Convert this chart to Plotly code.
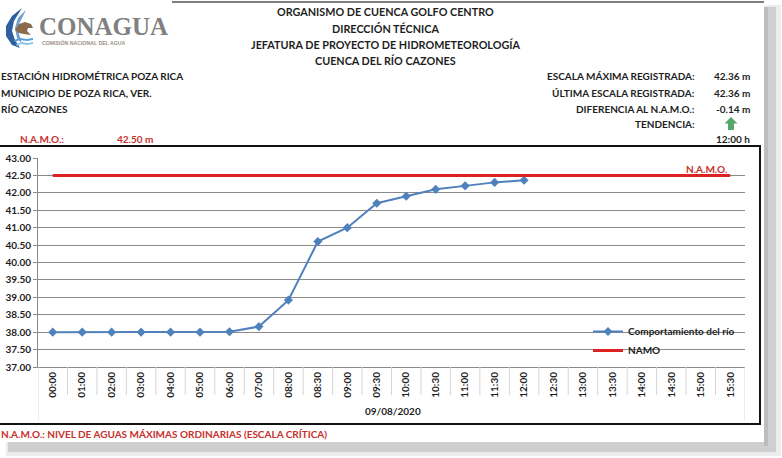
import plotly.graph_objects as go

# ---------------- data ----------------
categories = ["00:00", "01:00", "02:00", "03:00", "04:00", "05:00", "06:00", "07:00",
              "08:00", "08:30", "09:00", "09:30", "10:00", "10:30", "11:00", "11:30",
              "12:00", "12:30", "13:00", "13:30", "14:00", "14:30", "15:00", "15:30"]
river_times = categories[:17]
river_levels = [38.00, 38.00, 38.00, 38.00, 38.00, 38.00, 38.01, 38.16,
                38.92, 40.60, 41.00, 41.70, 41.90, 42.10, 42.20, 42.30, 42.36]
namo_level = 42.50
namo_values = [namo_level] * len(categories)
date_label = "09/08/2020"

W, H = 782, 458
L, R, T, B = 38, 745, 158, 367   # plot area in pixels

def px(x):
    return (x - L) / (R - L)

def py(y):
    return (B - y) / (B - T)

FONT = "Lato"
BLACK = "#1e1e1e"
RED_TXT = "#c8302c"
BLUE = "#4F81BD"
RED_LINE = "#dd2222"

fig = go.Figure()
fig.add_trace(go.Scatter(
    x=river_times, y=river_levels, name="Comportamiento del río",
    mode="lines+markers",
    line=dict(color=BLUE, width=2),
    marker=dict(symbol="diamond", size=7, color=BLUE),
))
fig.add_trace(go.Scatter(
    x=categories, y=namo_values, name="NAMO", mode="lines",
    line=dict(color=RED_LINE, width=3),
))

ann = []

def text(x, y, s, size=10.5, color=BLACK, xanchor="left", yanchor="middle", family=FONT, weight="bold"):
    ann.append(dict(x=px(x), y=py(y), xref="paper", yref="paper", text=s, showarrow=False,
                    xanchor=xanchor, yanchor=yanchor,
                    font=dict(family=family, size=size, color=color, weight=weight)))

# centre header
for yy, s in [(12, "ORGANISMO DE CUENCA GOLFO CENTRO"), (28, "DIRECCIÓN TÉCNICA"),
              (45, "JEFATURA DE PROYECTO DE HIDROMETEOROLOGÍA"), (61, "CUENCA DEL RÍO CAZONES")]:
    text(385, yy, s, size=10.8, xanchor="center")

# left block
text(-1, 76, "ESTACIÓN HIDROMÉTRICA POZA RICA", size=10)
text(-1, 93, "MUNICIPIO DE POZA RICA, VER.", size=10)
text(-1, 109, "RÍO CAZONES", size=10)
text(18, 139, "N.A.M.O.:", size=10, color=RED_TXT)
text(115, 139, "42.50 m", size=10, color=RED_TXT)

# right block
for yy, s in [(76, "ESCALA MÁXIMA REGISTRADA:"), (93, "ÚLTIMA ESCALA REGISTRADA:"),
              (109, "DIFERENCIA AL N.A.M.O.:"), (124, "TENDENCIA:")]:
    text(697, yy, s, size=10, xanchor="right")
for yy, s in [(76, "42.36 m"), (93, "42.36 m"), (109, "-0.14 m"), (139, "12:00 h")]:
    text(752, yy, s, size=10, xanchor="right")

# logo text
text(37, 26, "CONAGUA", size=25, color="#808080", family="Liberation Serif", weight="bold")
text(40, 43, "COMISIÓN NACIONAL DEL AGUA", size=5.2, color="#9a8f86", family="Liberation Sans")

# in-chart labels
text(729, 169, "N.A.M.O.", size=10, color=RED_TXT, xanchor="right")
text(393, 411, date_label, size=10, xanchor="center")
text(-1, 434, "N.A.M.O.: NIVEL DE AGUAS MÁXIMAS ORDINARIAS (ESCALA CRÍTICA)", size=10, color=RED_TXT)

shapes = []

def rect(x0, y0, x1, y1, fill=None, line_color=None, lw=0, layer="above"):
    shapes.append(dict(type="rect", xref="paper", yref="paper",
                       x0=px(x0), x1=px(x1), y0=py(y0), y1=py(y1),
                       fillcolor=fill if fill else "rgba(0,0,0,0)",
                       line=dict(color=line_color or "rgba(0,0,0,0)", width=lw), layer=layer))

def path(points, fill, line_color=None, lw=0, closed=True):
    d = "M " + " L ".join(f"{px(a):.5f},{py(b):.5f}" for a, b in points)
    if closed:
        d += " Z"
    shapes.append(dict(type="path", xref="paper", yref="paper", path=d,
                       fillcolor=fill, line=dict(color=line_color or "rgba(0,0,0,0)", width=lw)))

# page shadow
rect(764, 5, 781, 456, fill="#ececec", layer="below")
rect(6, 442, 781, 456, fill="#ececec", layer="below")
rect(764, 7, 776, 452, fill="#cfcfcf", layer="below")
rect(8, 442, 776, 452, fill="#cfcfcf", layer="below")
rect(764, 7, 768, 446, fill="#bdbdbd", layer="below")
# top rule
shapes.append(dict(type="line", xref="paper", yref="paper", x0=px(172), x1=px(764),
                   y0=py(2), y1=py(2), line=dict(color="#555555", width=1.5)))
# chart frame
rect(-1, 146, 760, 424, line_color="#111111", lw=2)

# category separators in the label area
for i in range(len(categories) + 1):
    outer = i == 0 or i == len(categories)
    shapes.append(dict(type="line", xref="x", yref="paper", x0=i - 0.5, x1=i - 0.5,
                       y0=0, y1=py(420 if outer else 395),
                       line=dict(color="#d6d6d6", width=1)))

# green trend arrow
path([(731, 117), (737.5, 123.5), (734, 123.5), (734, 130), (728, 130), (728, 123.5), (724.5, 123.5)],
     fill="#55a868")

# logo icon (approximation)
path([(22, 8), (12, 16), (6, 26), (6, 36), (12, 45), (20, 48), (15, 40), (12, 31), (14, 21)],
     fill="#2f5f9e")
path([(26, 10), (18, 18), (15, 28), (17, 38), (22, 44), (19, 34), (19, 24)],
     fill="#6f9fd0")
path([(15, 30), (19, 24), (25, 22), (31, 24), (33, 28), (28, 28), (27, 31), (31, 35), (24, 34), (19, 33)],
     fill="#8b6b4a")
path([(14, 40), (20, 38), (27, 39), (33, 38), (33, 40), (27, 41), (20, 40), (15, 42)],
     fill="#5aa0d8")
path([(16, 44), (22, 42), (28, 43), (33, 42), (33, 44), (27, 45), (21, 44), (17, 46)],
     fill="#8cc4ea")

fig.update_layout(
    width=W, height=H,
    margin=dict(l=L, r=W - R, t=T, b=H - B, pad=0, autoexpand=False),
    paper_bgcolor="white", plot_bgcolor="white",
    showlegend=True,
    legend=dict(x=px(588), y=py(317), xanchor="left", yanchor="top",
                bgcolor="rgba(0,0,0,0)", itemwidth=30, tracegroupgap=0,
                font=dict(family=FONT, size=10, color=BLACK, weight="bold")),
    annotations=ann, shapes=shapes,
    xaxis=dict(type="category", categoryorder="array", categoryarray=categories,
               range=[-0.5, len(categories) - 0.5], showgrid=False, automargin=False,
               showline=True, linecolor="#8a8a8a", linewidth=1, ticks="",
               tickangle=-90, tickfont=dict(family=FONT, size=10, color=BLACK, weight="bold"),
               fixedrange=True),
    yaxis=dict(range=[37, 43], dtick=0.5, tick0=37, tickformat=".2f", automargin=False,
               showgrid=True, gridcolor="#8a8a8a", gridwidth=1,
               showline=True, linecolor="#8a8a8a", linewidth=1,
               ticks="outside", ticklen=4, tickcolor="#8a8a8a",
               tickfont=dict(family=FONT, size=10, color=BLACK, weight="bold"),
               zeroline=False, fixedrange=True),
)

fig.write_html("out.html")
